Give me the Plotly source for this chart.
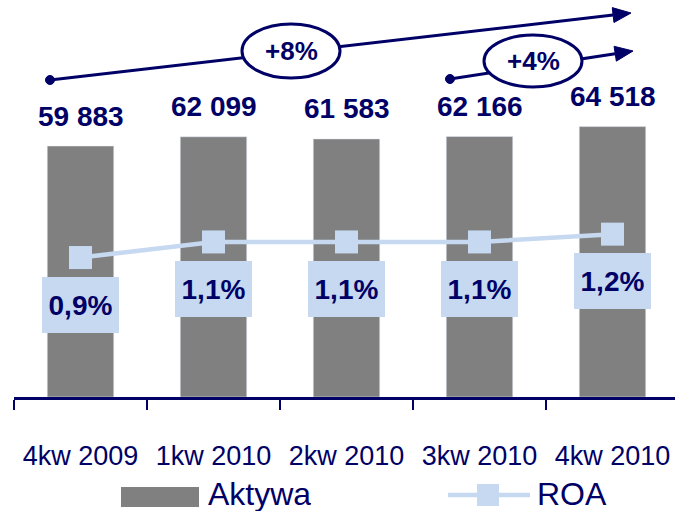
import math
import plotly.graph_objects as go

# Quarterly data
quarters = ["4kw 2009", "1kw 2010", "2kw 2010", "3kw 2010", "4kw 2010"]
aktywa = [59883, 62099, 61583, 62166, 64518]
aktywa_labels = ["59 883", "62 099", "61 583", "62 166", "64 518"]
roa = [0.9, 1.1, 1.1, 1.1, 1.2]
roa_labels = ["0,9%", "1,1%", "1,1%", "1,1%", "1,2%"]
growth_labels = ["+8%", "+4%"]

NAVY = "#000066"
GREY = "#808080"
LIGHT = "#c6d9f1"
FONT = "Liberation Sans, Arial, sans-serif"

W, H = 675, 512
ML, MR, MT, MB = 14, 0, 0, 115
PW, PH = W - ML - MR, H - MT - MB


def px(x):
    """Horizontal pixel -> paper coordinate."""
    return (x - ML) / PW


def py(y):
    """Vertical pixel (from top) -> paper coordinate."""
    return (H - MB - y) / PH


fig = go.Figure()

fig.add_trace(go.Bar(
    x=quarters, y=aktywa, name="Aktywa", marker_color=GREY,
    width=0.5, showlegend=False, hoverinfo="x+y",
))
fig.add_trace(go.Scatter(
    x=quarters, y=roa, name="ROA", yaxis="y2", mode="lines+markers",
    line=dict(color=LIGHT, width=4.5),
    marker=dict(symbol="square", size=23, color=LIGHT),
    showlegend=False,
))

annotations = []
# value labels above the bars
for q, v, t in zip(quarters, aktywa, aktywa_labels):
    annotations.append(dict(
        x=q, y=v, xref="x", yref="y", text=t, showarrow=False,
        yanchor="middle", yshift=30,
        font=dict(family=FONT, size=28, color=NAVY, weight="bold"),
    ))
# ROA labels in boxes under the markers
for q, v, t in zip(quarters, roa, roa_labels):
    annotations.append(dict(
        x=q, y=v, xref="x", yref="y2", text=t, showarrow=False,
        yanchor="middle", yshift=-47, width=75, height=54,
        bgcolor=LIGHT, borderpad=1, borderwidth=0,
        font=dict(family=FONT, size=28, color=NAVY, weight="bold"),
    ))

shapes = []


def arrow(x0, y0, x1, y1, head_len=18, head_half=7.5):
    ang = math.atan2(y1 - y0, x1 - x0)
    bx, by = x1 - head_len * math.cos(ang), y1 - head_len * math.sin(ang)
    nx, ny = -math.sin(ang), math.cos(ang)
    shapes.append(dict(type="line", xref="paper", yref="paper",
                       x0=px(x0), y0=py(y0), x1=px(bx), y1=py(by),
                       line=dict(color=NAVY, width=3)))
    pts = [(x1, y1), (bx + nx * head_half, by + ny * head_half),
           (bx - nx * head_half, by - ny * head_half)]
    path = "M " + " L ".join(f"{px(a):.5f},{py(b):.5f}" for a, b in pts) + " Z"
    shapes.append(dict(type="path", xref="paper", yref="paper", path=path,
                       fillcolor=NAVY, line=dict(color=NAVY, width=1)))
    r = 4.5
    shapes.append(dict(type="circle", xref="paper", yref="paper",
                       x0=px(x0 - r), x1=px(x0 + r), y0=py(y0 - r), y1=py(y0 + r),
                       fillcolor=NAVY, line=dict(color=NAVY, width=1)))


def ellipse(cx, cy, rx, ry, text):
    shapes.append(dict(type="circle", xref="paper", yref="paper",
                       x0=px(cx - rx), x1=px(cx + rx), y0=py(cy - ry), y1=py(cy + ry),
                       fillcolor="white", line=dict(color=NAVY, width=3)))
    annotations.append(dict(x=px(cx), y=py(cy), xref="paper", yref="paper",
                            text=text, showarrow=False, xanchor="center", yanchor="middle",
                            font=dict(family=FONT, size=26, color=NAVY, weight="bold")))


arrow(50, 80, 631, 13)
arrow(450, 79, 633, 51)
ellipse(291, 51, 49, 27, growth_labels[0])
ellipse(533, 61, 49, 26, growth_labels[1])

# legend drawn below the axis
shapes.append(dict(type="rect", xref="paper", yref="paper",
                   x0=px(121), x1=px(199), y0=py(487), y1=py(507),
                   fillcolor=GREY, line=dict(width=0)))
annotations.append(dict(x=px(206), y=py(494), xref="paper", yref="paper", text="Aktywa",
                        showarrow=False, xanchor="left", yanchor="middle", height=34,
                        font=dict(family=FONT, size=32, color=NAVY)))
shapes.append(dict(type="line", xref="paper", yref="paper",
                   x0=px(448), x1=px(530), y0=py(495), y1=py(495),
                   line=dict(color=LIGHT, width=4.5)))
shapes.append(dict(type="rect", xref="paper", yref="paper",
                   x0=px(477), x1=px(499), y0=py(484), y1=py(506),
                   fillcolor=LIGHT, line=dict(width=0)))
annotations.append(dict(x=px(535), y=py(494), xref="paper", yref="paper", text="ROA",
                        showarrow=False, xanchor="left", yanchor="middle", height=34,
                        font=dict(family=FONT, size=32, color=NAVY)))

fig.update_layout(
    width=W, height=H,
    margin=dict(l=ML, r=MR, t=MT, b=MB),
    paper_bgcolor="white", plot_bgcolor="white",
    showlegend=False,
    xaxis=dict(
        type="category", range=[-0.5, -0.5 + PW / 133.0],
        showline=True, linecolor=NAVY, linewidth=2.5,
        ticks="outside", tickson="boundaries", ticklen=10, tickwidth=2, tickcolor=NAVY,
        showgrid=False, zeroline=False,
        tickfont=dict(family=FONT, size=27, color=NAVY),
        ticklabelstandoff=33,
    ),
    yaxis=dict(range=[0, 397 * 238.6], visible=False, showgrid=False, zeroline=False),
    yaxis2=dict(range=[-0.888, 4.202], overlaying="y", visible=False,
                showgrid=False, zeroline=False),
    shapes=shapes,
    annotations=annotations,
)

fig.write_html("out.html")
